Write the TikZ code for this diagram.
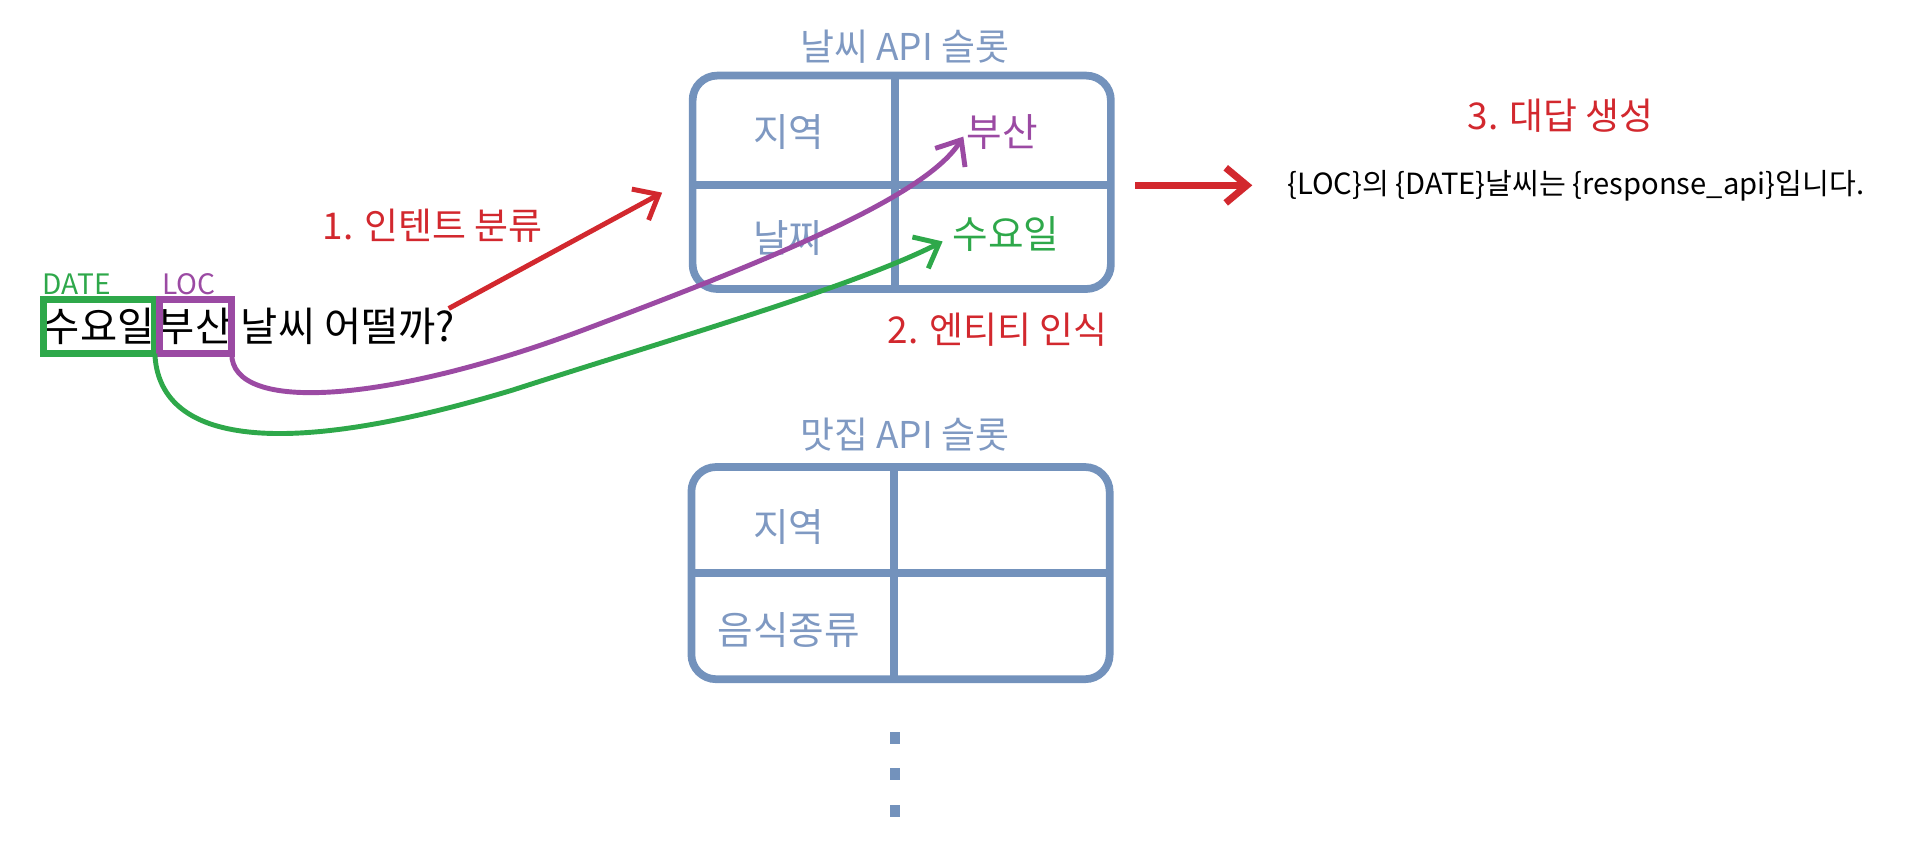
\documentclass[tikz,border=0pt]{standalone}
\usepackage{fontspec}
\setmainfont{Noto Sans CJK KR}
\usetikzlibrary{arrows.meta}
\definecolor{slot}{HTML}{7392BC}
\definecolor{slottxt}{HTML}{7F99C2}
\definecolor{myred}{HTML}{D2282E}
\definecolor{mypurple}{HTML}{9B4AA3}
\definecolor{mygreen}{HTML}{2EA84A}
\begin{document}
\begin{tikzpicture}[x=0.012194cm,y=-0.012194cm,
  tbl/.style={draw=slot,line width=2.2pt,rounded corners=7pt},
  grid/.style={draw=slot,line width=2.2pt},
  cell/.style={font=\fontsize{11}{13}\selectfont,text=slottxt,inner sep=0},
  ttl/.style={font=\fontsize{10.5}{13}\selectfont,text=slottxt,inner sep=0},
  redl/.style={font=\fontsize{10.5}{13}\selectfont,text=myred,inner sep=0},
  word/.style={font=\fontsize{11.5}{14}\selectfont,inner sep=0},
  arr/.style={line width=1.4pt,-{Straight Barb[length=6pt,width=10pt]}},
  tag/.style={font=\fontsize{8}{10}\selectfont,inner sep=0}]
\useasboundingbox (0,0) rectangle (1568,697);
% table 1
\node[ttl] (t1) at (742,38) {날씨 API 슬롯};
\draw[tbl] (568,62) rectangle (911,237);
\draw[grid] (734,62) -- (734,237) (568,152) -- (911,152);
\node[cell] (c11) at (647,108) {지역};
\node[cell,text=mypurple] (c12) at (822,108) {부산};
\node[cell] (c21) at (647,195) {날짜};
\node[cell,text=mygreen] (c22) at (825,192) {수요일};
% table 2
\node[ttl] (t2) at (742,356) {맛집 API 슬롯};
\draw[tbl] (567,383) rectangle (910,557);
\draw[grid] (733,383) -- (733,557) (567,470) -- (910,470);
\node[cell] (d11) at (647,432) {지역};
\node[cell] (d21) at (647,517) {음식종류};
\foreach \yy in {605,635,665} \fill[slot] (730,\yy-5) rectangle (738,\yy+5);
% sentence
\node[tag,text=mygreen] (dl) at (63,233) {DATE};
\node[tag,text=mypurple] (ll) at (155,233) {LOC};
\node[word] (w1) at (81,268) {수요일};
\node[word] (w2) at (160,268) {부산};
\node[word,anchor=west] (w3) at (197,268) {날씨 어떨까?};
\draw[mygreen,line width=2pt] (36,246) rectangle (127,290);
\draw[mypurple,line width=2pt] (131,246) rectangle (190,290);
\coordinate (gs) at (127,290);
\coordinate (ps) at (190,290);
\coordinate (ge) at (773,198);
\coordinate (pe) at (790,112);
\draw[mypurple,arr] (ps) .. controls (190,340) and (320,330) .. (480,270) .. controls (640,210) and (760,160) .. (pe);
\draw[mygreen,arr] (gs) .. controls (130,360) and (220,380) .. (420,320) .. controls (560,275) and (700,235) .. (ge);
% intent
\node[redl] (l1) at (355,185) {1. 인텐트 분류};
\coordinate (rs) at (368,253);
\coordinate (re) at (543,158);
\draw[myred,arr] (rs) -- (re);
\node[redl] (l2) at (818,270) {2. 엔티티 인식};
\node[redl] (l3) at (1280,95) {3. 대답 생성};
\coordinate (os) at (931,152);
\coordinate (oe) at (1027,152);
\draw[myred,arr,line width=2pt] (os) -- (oe);
\node[font=\fontsize{8.3}{10}\selectfont,inner sep=0,anchor=west] (resp) at (1055,152) {\{LOC\}의 \{DATE\}날씨는 \{response\_api\}입니다.};
\end{tikzpicture}
\end{document}
